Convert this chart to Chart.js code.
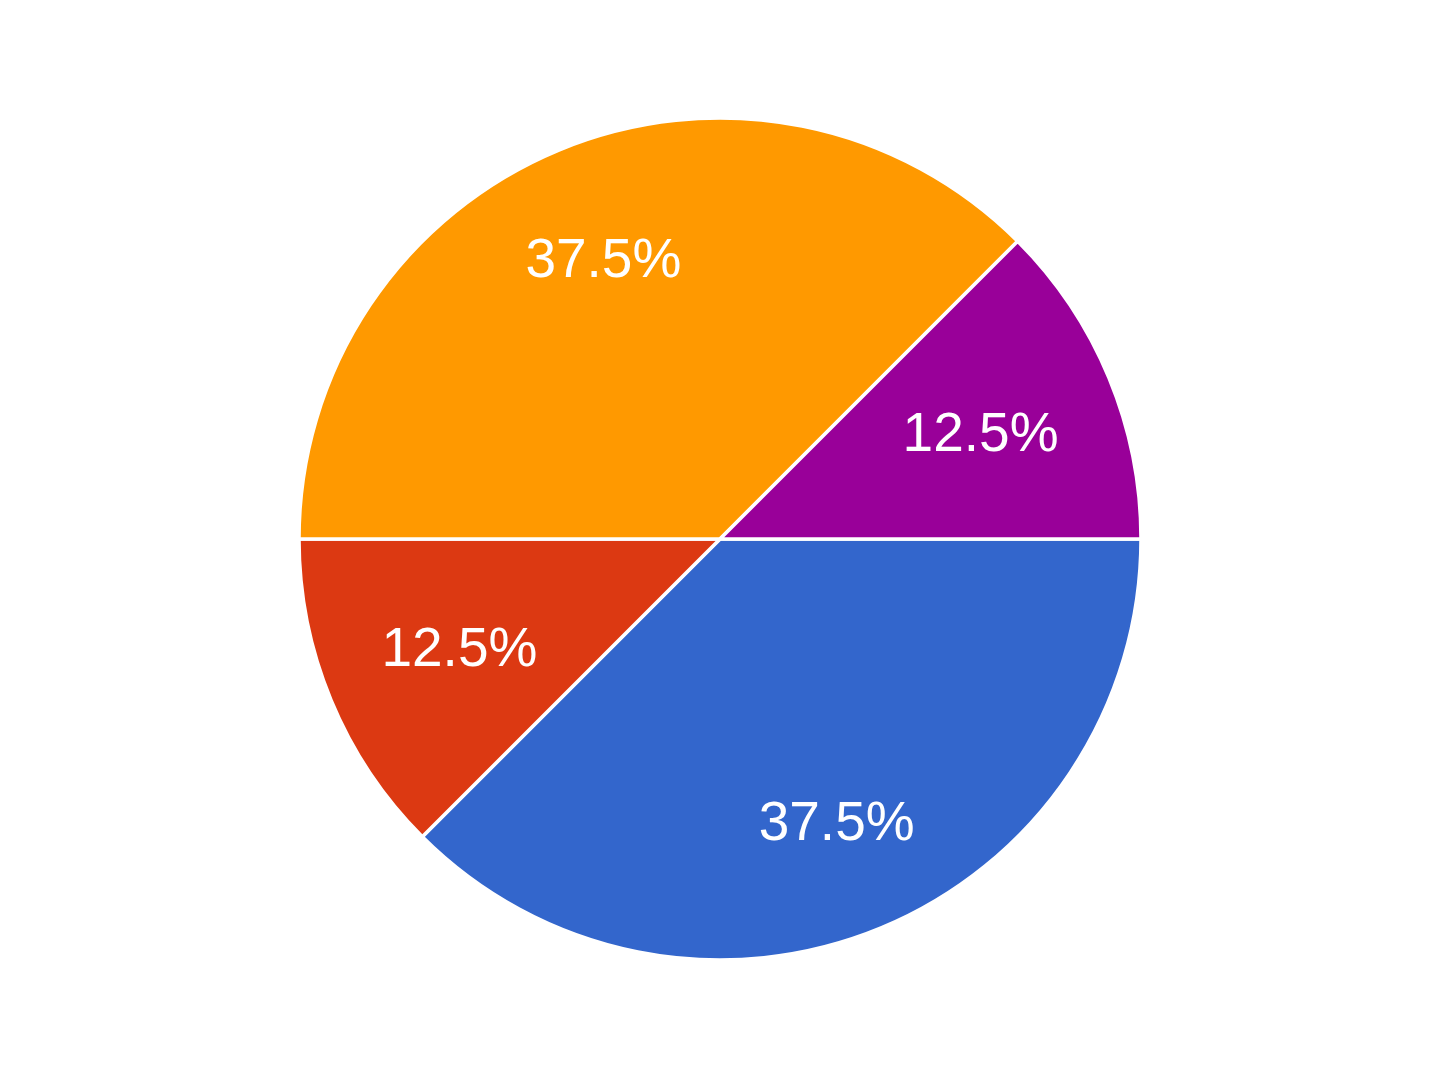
<!DOCTYPE html>
<html>
<head>
<meta charset="utf-8">
<script src="https://cdn.jsdelivr.net/npm/chart.js@4/dist/chart.umd.min.js"></script>
<style>
  html, body { margin: 0; padding: 0; background: #ffffff; }
  #wrap { width: 1443px; height: 1082px; }
</style>
</head>
<body>
<div id="wrap"><canvas id="myChart" width="1443" height="1082"></canvas></div>
<script>
// slice data, clockwise from 3 o'clock
var categories = ['A', 'B', 'C', 'D'];
var values = [3, 1, 3, 1];
var sliceColors = ['#3366cc', '#dc3912', '#ff9900', '#990099'];

// percent labels drawn inside each slice
var pieLabels = {
  id: 'pieLabels',
  afterDatasetsDraw: function (chart) {
    var ctx = chart.ctx;
    var data = chart.data.datasets[0].data;
    var total = data.reduce(function (a, b) { return a + b; }, 0);
    var arcs = chart.getDatasetMeta(0).data;
    ctx.save();
    ctx.fillStyle = '#ffffff';
    ctx.font = '55px "Liberation Sans", Arial, sans-serif';
    ctx.textAlign = 'center';
    ctx.textBaseline = 'alphabetic';
    for (var i = 0; i < arcs.length; i++) {
      var a = arcs[i];
      var mid = (a.startAngle + a.endAngle) / 2;
      var frac = (a.endAngle - a.startAngle) > Math.PI / 2 ? 0.724 : 0.67;
      var r = a.outerRadius * frac;
      var x = a.x + Math.cos(mid) * r;
      var y = a.y + Math.sin(mid) * r;
      var pct = (data[i] / total * 100).toFixed(1) + '%';
      ctx.fillText(pct, x, y + 19.5);
    }
    ctx.restore();
  }
};

var ctx = document.getElementById('myChart').getContext('2d');

var myChart = new Chart(ctx, {
  type: 'pie',
  data: {
    labels: categories,
    datasets: [{
      data: values,
      backgroundColor: sliceColors,
      borderColor: '#ffffff',
      borderWidth: 3.5
    }]
  },
  options: {
    responsive: false,
    animation: false,
    rotation: 90,
    radius: 421,
    layout: { padding: { top: 116, bottom: 120, left: 0, right: 3 } },
    plugins: {
      legend: { display: false },
      tooltip: { enabled: false }
    }
  },
  plugins: [pieLabels]
});
</script>
</body>
</html>
